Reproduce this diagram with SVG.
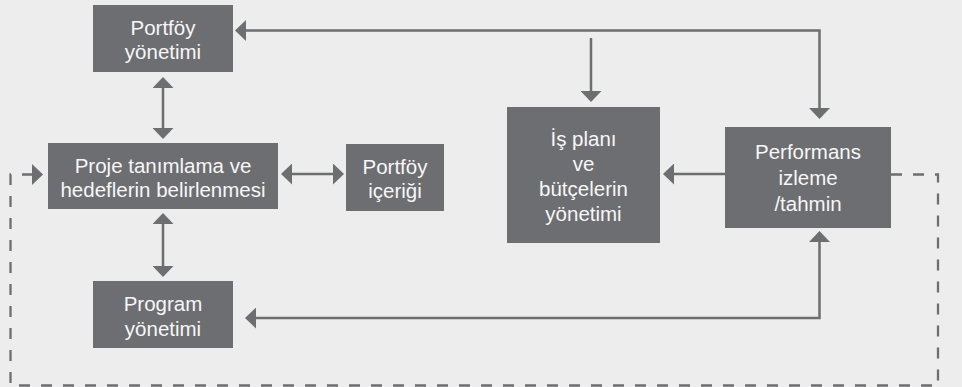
<svg xmlns="http://www.w3.org/2000/svg" width="962" height="387" viewBox="0 0 962 387">
<style>
.box{fill:#6d6e71}
.t{font-family:"Liberation Sans",Arial,sans-serif;font-size:20.5px;fill:#f7f7f7;text-anchor:middle}
.ln{fill:none;stroke:#6d6e71;stroke-width:2.5}
.dash{fill:none;stroke:#6d6e71;stroke-width:2.3;stroke-dasharray:11 11}
</style>
<defs>
<marker id="ah" viewBox="0 0 11 21" refX="5" refY="10.5" markerWidth="11" markerHeight="21" markerUnits="userSpaceOnUse" orient="auto-start-reverse">
<path d="M0,0 L11,10.5 L0,21 z" fill="#6d6e71"/>
</marker>
</defs>
<rect x="0" y="0" width="962" height="387" fill="#ededed"/>
<g id="connectors">
<line class="ln" x1="163" y1="83" x2="163" y2="133" marker-start="url(#ah)" marker-end="url(#ah)"/>
<line class="ln" x1="163" y1="219" x2="163" y2="271" marker-start="url(#ah)" marker-end="url(#ah)"/>
<line class="ln" x1="287" y1="174" x2="338" y2="174" marker-start="url(#ah)" marker-end="url(#ah)"/>
<path class="ln" d="M241,30.5 L819.5,30.5 L819.5,113" marker-start="url(#ah)" marker-end="url(#ah)"/>
<line class="ln" x1="591" y1="38" x2="591" y2="96" marker-end="url(#ah)"/>
<line class="ln" x1="725" y1="174" x2="669" y2="174" marker-end="url(#ah)"/>
<path class="ln" d="M819.5,237 L819.5,318 L251,318" marker-start="url(#ah)" marker-end="url(#ah)"/>
<path class="dash" d="M891,174.5 L938,174.5 L938,385.5 L10.5,385.5 L10.5,174.5 L37,174.5" marker-end="url(#ah)"/>
</g>
<g id="portfoy-yonetimi">
<rect class="box" x="93" y="5" width="140" height="67"/>
<text class="t" x="163" y="34.5">Portföy</text>
<text class="t" x="163" y="58.5">yönetimi</text>
</g>
<g id="proje-tanimlama">
<rect class="box" x="48" y="143" width="230" height="66"/>
<text class="t" x="163" y="172.7">Proje tanımlama ve</text>
<text class="t" x="163" y="196.7">hedeflerin belirlenmesi</text>
</g>
<g id="portfoy-icerigi">
<rect class="box" x="346" y="144" width="98" height="67"/>
<text class="t" x="395" y="173.5">Portföy</text>
<text class="t" x="395" y="197.5">içeriği</text>
</g>
<g id="program-yonetimi">
<rect class="box" x="93" y="281" width="140" height="67"/>
<text class="t" x="163" y="311">Program</text>
<text class="t" x="163" y="335.5">yönetimi</text>
</g>
<g id="is-plani">
<rect class="box" x="507" y="107" width="153" height="136"/>
<text class="t" x="583.5" y="145.7">İş planı</text>
<text class="t" x="583.5" y="170.7">ve</text>
<text class="t" x="583.5" y="195.7">bütçelerin</text>
<text class="t" x="583.5" y="221">yönetimi</text>
</g>
<g id="performans">
<rect class="box" x="725" y="127" width="166" height="101"/>
<text class="t" x="808" y="159.3">Performans</text>
<text class="t" x="808" y="185">izleme</text>
<text class="t" x="808" y="210.7">/tahmin</text>
</g>
</svg>
